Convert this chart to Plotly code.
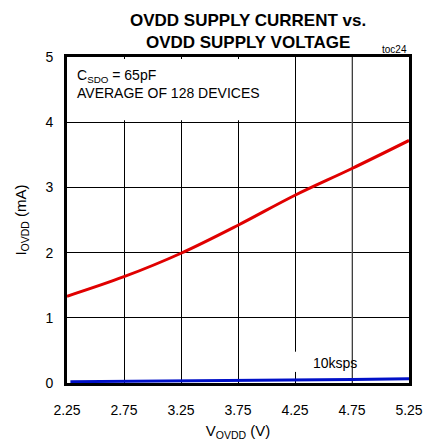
import plotly.graph_objects as go

# OVDD supply voltage (V) and supply current (mA)
volts = [2.25, 2.75, 3.25, 3.75, 4.25, 4.75, 5.25]
i_avg = [1.33, 1.63, 1.99, 2.42, 2.88, 3.29, 3.72]
volts_10k = [2.28, 2.75, 3.25, 3.75, 4.25, 4.75, 5.25]
i_10k = [0.02, 0.025, 0.03, 0.038, 0.045, 0.055, 0.065]

FONT = "Liberation Sans, Arial, sans-serif"

fig = go.Figure()
fig.add_trace(go.Scatter(x=volts, y=i_avg, mode="lines", line=dict(color="#e00000", width=3, shape="spline")))
fig.add_trace(go.Scatter(x=volts_10k, y=i_10k, mode="lines", line=dict(color="#0010c8", width=3)))

# white boxes hiding grid behind the labels
fig.add_shape(type="rect", xref="x", yref="y", x0=2.27, x1=4.22, y0=4.03, y1=4.97,
              fillcolor="white", line=dict(width=0), layer="between")
fig.add_shape(type="rect", xref="x", yref="y", x0=4.2, x1=4.3, y0=0.17, y1=0.48,
              fillcolor="white", line=dict(width=0), layer="between")
# the 4.75 grid line is printed lighter
fig.add_shape(type="line", xref="x", yref="y", x0=4.75, x1=4.75, y0=0, y1=5,
              line=dict(color="#808080", width=1), layer="between")

fig.add_annotation(xref="x", yref="y", x=2.32, y=4.87, xanchor="left", yanchor="top", align="left",
                   showarrow=False, text="C<sub>SDO</sub> = 65pF<br>AVERAGE OF 128 DEVICES",
                   font=dict(size=14, color="black", family=FONT))
fig.add_annotation(xref="x", yref="y", x=4.6, y=0.31, showarrow=False, text="10ksps",
                   font=dict(size=14, color="black", family=FONT))
fig.add_annotation(xref="paper", yref="paper", x=1.0, y=1.0, xanchor="right", yanchor="bottom",
                   showarrow=False, text="toc24", font=dict(size=10, color="black", family=FONT))
fig.add_annotation(xref="paper", yref="paper", x=0.53, y=1.01, yanchor="bottom", showarrow=False,
                   text="<b>OVDD SUPPLY CURRENT vs.<br>OVDD SUPPLY VOLTAGE</b>",
                   font=dict(size=17, color="black", family=FONT))

fig.update_layout(
    width=427, height=445,
    margin=dict(l=67, r=18, t=57, b=62),
    plot_bgcolor="white", paper_bgcolor="white",
    showlegend=False,
    font=dict(family=FONT, size=14, color="black"),
)
fig.update_xaxes(
    range=[2.25, 5.25], tickvals=volts, ticktext=["2.25", "2.75", "3.25", "3.75", "4.25", "4.75", "5.25"],
    showgrid=True, gridcolor="black", gridwidth=1, zeroline=False,
    showline=True, linecolor="black", linewidth=3, mirror=True,
    ticks="", ticklabelstandoff=12, automargin=False,
    title=dict(text="V<sub>OVDD</sub> (V)", standoff=9, font=dict(size=15)),
)
fig.update_yaxes(
    range=[0, 5], tickvals=[0, 1, 2, 3, 4, 5],
    showgrid=True, gridcolor="black", gridwidth=1, zeroline=False,
    showline=True, linecolor="black", linewidth=3, mirror=True,
    ticks="", ticklabelstandoff=8, automargin=False,
    title=dict(text="I<sub>OVDD</sub> (mA)", standoff=16, font=dict(size=15)),
)

fig.write_html(
    "out.html",
    config={"displayModeBar": False},
    post_script=(
        "document.body.style.margin='0';"
        "document.body.style.overflow='hidden';"
        "document.documentElement.style.overflow='hidden';"
    ),
)
